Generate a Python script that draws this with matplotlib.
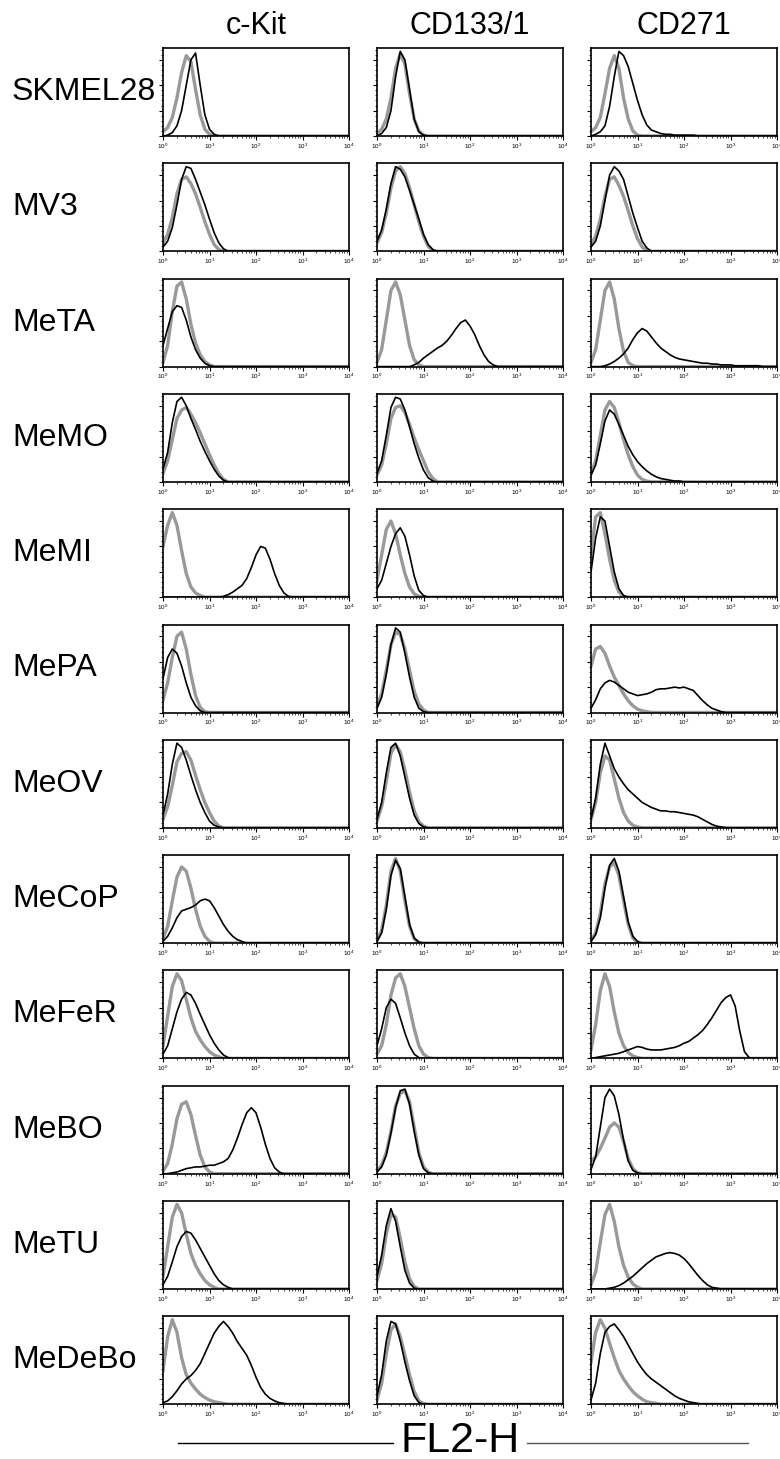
import numpy as np
import matplotlib.pyplot as plt
from matplotlib.lines import Line2D
from matplotlib.ticker import LogLocator, NullFormatter, MaxNLocator, AutoMinorLocator

plt.rcParams['font.family'] = ['Liberation Sans', 'DejaVu Sans']

markers = ['c-Kit', 'CD133/1', 'CD271']
cell_lines = ['SKMEL28', 'MV3', 'MeTA', 'MeMO', 'MeMI', 'MePA',
              'MeOV', 'MeCoP', 'MeFeR', 'MeBO', 'MeTU', 'MeDeBo']

# FL2-H channel positions, in decades above 10^0
decades = np.round(np.arange(0, 4.01, 0.1), 1)

# cell counts in % of panel maximum, one value per 0.1 decade starting at 10^0
# gray = isotype control, black = stained;  [c-Kit, CD133/1, CD271]
skmel28_gray = [[5, 10, 22, 45, 75, 95, 88, 55, 25, 8, 2, 0],
                [3, 8, 20, 45, 80, 97, 85, 50, 20, 6, 1, 0],
                [5, 10, 22, 50, 80, 95, 80, 45, 20, 6, 1, 0]]
skmel28_black = [[0, 1, 4, 12, 30, 60, 90, 98, 60, 25, 8, 2, 0],
                 [0, 3, 10, 30, 70, 100, 90, 55, 20, 5, 1, 0],
                 [0, 2, 5, 12, 35, 70, 100, 95, 82, 62, 42, 25, 13, 7, 5, 3, 2, 2, 1, 1,
                  1, 1, 1, 0]]

mv3_gray = [[10, 20, 40, 68, 85, 88, 80, 68, 52, 35, 20, 8, 2, 0],
            [10, 22, 45, 75, 95, 100, 92, 75, 55, 35, 18, 6, 1, 0],
            [8, 18, 38, 65, 85, 88, 78, 65, 48, 30, 15, 5, 1, 0]]
mv3_black = [[5, 12, 28, 55, 85, 100, 98, 85, 70, 55, 38, 22, 10, 3, 0],
             [12, 25, 50, 80, 100, 97, 88, 72, 55, 38, 20, 8, 2, 0],
             [5, 12, 30, 60, 90, 100, 95, 85, 65, 45, 28, 12, 4, 0]]

meta_gray = [[5, 25, 65, 95, 100, 80, 50, 28, 14, 6, 2, 0],
             [5, 20, 55, 90, 100, 85, 55, 25, 8, 2, 0],
             [5, 20, 55, 90, 100, 80, 45, 18, 5, 1, 0]]
meta_black = [[25, 45, 65, 72, 70, 55, 35, 20, 10, 4, 1, 0],
              [0, 0, 0, 0, 0, 0, 0, 0, 2, 5, 10, 14, 18, 22, 25, 30, 37, 45, 52, 55,
               48, 38, 25, 14, 6, 2, 0],
              [0, 0, 0, 1, 3, 6, 10, 15, 22, 32, 40, 45, 42, 35, 28, 22, 18, 14, 11, 9,
               8, 7, 6, 5, 4, 4, 3, 3, 2, 2, 2, 1, 1, 1, 1, 1, 1, 0]]

memo_gray = [[10, 25, 50, 75, 85, 88, 80, 70, 58, 45, 32, 20, 10, 3, 0],
             [8, 20, 45, 75, 88, 90, 82, 68, 52, 38, 25, 12, 4, 0],
             [10, 25, 55, 85, 95, 88, 70, 50, 32, 18, 8, 3, 1, 0]]
memo_black = [[15, 35, 70, 95, 100, 90, 75, 62, 48, 36, 25, 15, 7, 2, 0],
              [10, 25, 55, 88, 100, 98, 85, 65, 45, 28, 14, 5, 1, 0],
              [8, 20, 45, 72, 85, 80, 68, 55, 42, 32, 24, 18, 13, 9, 6, 4, 3, 2, 1, 1, 0]]

memi_gray = [[60, 85, 100, 85, 55, 28, 12, 5, 2, 0],
             [20, 50, 80, 90, 75, 50, 28, 12, 4, 1, 0],
             [50, 95, 100, 75, 45, 20, 6, 1, 0]]
memi_black = [[0, 0, 0, 0, 0, 0, 0, 0, 0, 0, 0, 0, 0, 1, 3, 6, 10, 14, 22, 35,
               50, 60, 58, 45, 28, 14, 5, 1, 0],
              [10, 20, 40, 60, 75, 82, 72, 50, 25, 8, 2, 0],
              [30, 70, 95, 90, 60, 30, 10, 2, 0]]

mepa_gray = [[15, 35, 65, 90, 95, 75, 45, 20, 6, 1, 0],
             [8, 22, 50, 80, 95, 92, 75, 50, 25, 10, 3, 0],
             [55, 75, 78, 70, 55, 42, 32, 22, 14, 8, 4, 2, 1, 0]]
mepa_black = [[40, 65, 75, 70, 55, 35, 18, 8, 2, 0],
              [5, 18, 45, 80, 100, 95, 70, 42, 18, 5, 1, 0],
              [5, 15, 28, 35, 38, 36, 32, 28, 24, 22, 20, 21, 22, 24, 27, 28, 28, 29,
               30, 29, 30, 28, 26, 20, 14, 9, 5, 3, 1, 0]]

meov_gray = [[10, 25, 50, 78, 88, 90, 80, 62, 45, 30, 18, 8, 2, 0],
             [8, 25, 55, 88, 98, 90, 68, 42, 20, 7, 2, 0],
             [10, 30, 65, 85, 80, 58, 35, 18, 8, 3, 1, 0]]
meov_black = [[15, 40, 75, 100, 95, 80, 62, 45, 30, 18, 8, 3, 1, 0],
              [10, 30, 65, 95, 100, 85, 60, 35, 15, 5, 1, 0],
              [10, 35, 75, 100, 85, 70, 60, 52, 45, 40, 35, 30, 27, 24, 22, 20, 20,
               19, 19, 18, 17, 16, 15, 13, 10, 7, 4, 2, 1, 0]]

mecop_gray = [[5, 20, 50, 78, 90, 85, 65, 40, 20, 8, 2, 0],
              [3, 15, 45, 85, 100, 85, 50, 20, 5, 1, 0],
              [3, 12, 35, 70, 90, 95, 80, 50, 22, 6, 1, 0]]
mecop_black = [[2, 8, 18, 30, 38, 40, 42, 45, 50, 52, 50, 42, 32, 22, 14, 8, 4, 2, 0],
               [2, 12, 40, 80, 98, 88, 55, 22, 6, 1, 0],
               [2, 10, 30, 65, 92, 100, 85, 55, 25, 8, 2, 0]]

mefer_gray = [[15, 50, 85, 100, 92, 70, 48, 32, 22, 14, 8, 4, 2, 0],
              [5, 15, 40, 75, 95, 100, 85, 60, 35, 15, 5, 1, 0],
              [10, 40, 80, 100, 85, 55, 30, 15, 7, 3, 1, 0]]
mefer_black = [[5, 15, 35, 55, 70, 78, 75, 65, 52, 40, 28, 18, 10, 4, 1, 0],
               [15, 35, 60, 70, 65, 48, 30, 15, 5, 1, 0],
               [0, 1, 2, 3, 4, 5, 6, 8, 10, 12, 14, 13, 11, 10, 10, 10, 11, 12, 13, 15,
                18, 20, 24, 28, 33, 40, 48, 57, 66, 72, 75, 62, 32, 8, 1, 0]]

mebo_gray = [[3, 12, 35, 65, 82, 85, 70, 45, 22, 8, 2, 0],
             [3, 10, 25, 50, 80, 95, 98, 85, 55, 25, 8, 2, 0],
             [15, 20, 30, 42, 55, 60, 55, 38, 18, 6, 1, 0]]
mebo_black = [[0, 0, 1, 2, 4, 6, 7, 8, 8, 9, 10, 10, 12, 14, 18, 28, 42, 58, 72, 78,
               72, 55, 35, 18, 7, 2, 0],
              [2, 8, 22, 48, 78, 98, 100, 82, 50, 22, 6, 1, 0],
              [5, 20, 55, 90, 100, 92, 70, 40, 15, 4, 1, 0]]

metu_gray = [[15, 50, 85, 100, 90, 65, 42, 28, 18, 10, 5, 2, 0],
             [10, 30, 65, 88, 85, 60, 32, 12, 3, 0],
             [5, 20, 55, 88, 100, 80, 50, 28, 14, 6, 2, 0]]
metu_black = [[5, 15, 32, 50, 62, 68, 66, 58, 48, 38, 28, 18, 10, 5, 2, 0],
              [15, 40, 75, 95, 80, 50, 22, 7, 1, 0],
              [0, 0, 0, 0, 1, 2, 4, 7, 11, 15, 20, 25, 30, 34, 38, 40, 42, 43, 42, 40,
               36, 30, 23, 16, 10, 5, 2, 1, 0]]

medebo_gray = [[40, 80, 100, 85, 55, 35, 25, 18, 12, 8, 5, 3, 2, 1, 0],
               [5, 25, 60, 88, 95, 80, 58, 35, 15, 4, 1, 0],
               [50, 85, 100, 90, 72, 55, 40, 30, 22, 15, 10, 6, 3, 2, 1, 0]]
medebo_black = [[2, 4, 9, 16, 24, 30, 34, 40, 48, 60, 72, 84, 92, 98, 92, 84, 74, 66,
                 58, 46, 32, 20, 12, 7, 4, 2, 1, 0],
                [10, 35, 75, 98, 95, 75, 50, 28, 10, 2, 0],
                [5, 25, 60, 85, 92, 95, 88, 80, 70, 60, 50, 42, 35, 30, 26, 22, 18, 14,
                 10, 7, 5, 3, 2, 1, 0]]

gray_rows = [skmel28_gray, mv3_gray, meta_gray, memo_gray, memi_gray, mepa_gray,
             meov_gray, mecop_gray, mefer_gray, mebo_gray, metu_gray, medebo_gray]
black_rows = [skmel28_black, mv3_black, meta_black, memo_black, memi_black, mepa_black,
              meov_black, mecop_black, mefer_black, mebo_black, metu_black, medebo_black]


def full(counts):
    # channels after the last listed value hold no cells
    y = np.zeros(len(decades))
    y[:len(counts)] = counts
    return y


W, H = 780, 1459
fig = plt.figure(figsize=(W / 100, H / 100), dpi=100)

col_left = [163, 377, 591]
pw, ph = 186, 88
row_top0, row_step = 48, 115.3

x = 10 ** decades
for i, name in enumerate(cell_lines):
    top = row_top0 + i * row_step
    for j in range(3):
        ax = fig.add_axes([col_left[j] / W, 1 - (top + ph) / H, pw / W, ph / H])
        g = full(gray_rows[i][j])
        b = full(black_rows[i][j])
        ax.plot(x, g, color='#999999', lw=2.4, solid_joinstyle='round')
        ax.plot(x, b, color='black', lw=1.2, solid_joinstyle='round')
        ax.set_xscale('log')
        ax.set_xlim(1, 1e4)
        ax.set_ylim(0, 104)
        ax.xaxis.set_major_locator(LogLocator(base=10, numticks=10))
        ax.xaxis.set_minor_locator(LogLocator(base=10, subs=np.arange(2, 10), numticks=10))
        ax.xaxis.set_minor_formatter(NullFormatter())
        ax.yaxis.set_major_locator(MaxNLocator(4))
        ax.yaxis.set_minor_locator(AutoMinorLocator(5))
        ax.set_yticklabels([])
        ax.tick_params(which='major', direction='out', length=3, width=0.8, labelsize=4.5, pad=1)
        ax.tick_params(which='minor', direction='out', length=1.5, width=0.5)
        for s in ax.spines.values():
            s.set_linewidth(1.2)
    fig.text(12 / W, 1 - (top + ph / 2) / H, name, fontsize=23, ha='left', va='center')

for j, m in enumerate(markers):
    fig.text((col_left[j] + pw / 2) / W, 1 - 26 / H, m, fontsize=22, ha='center', va='center')

fig.text(460 / W, 1 - 1441 / H, 'FL2-H', fontsize=31, ha='center', va='center')
fig.add_artist(Line2D([178 / W, 393 / W], [1 - 1443 / H, 1 - 1443 / H], color='black', lw=1))
fig.add_artist(Line2D([527 / W, 748 / W], [1 - 1443 / H, 1 - 1443 / H], color='#555555', lw=1))

fig.savefig('out.png', dpi=100)
